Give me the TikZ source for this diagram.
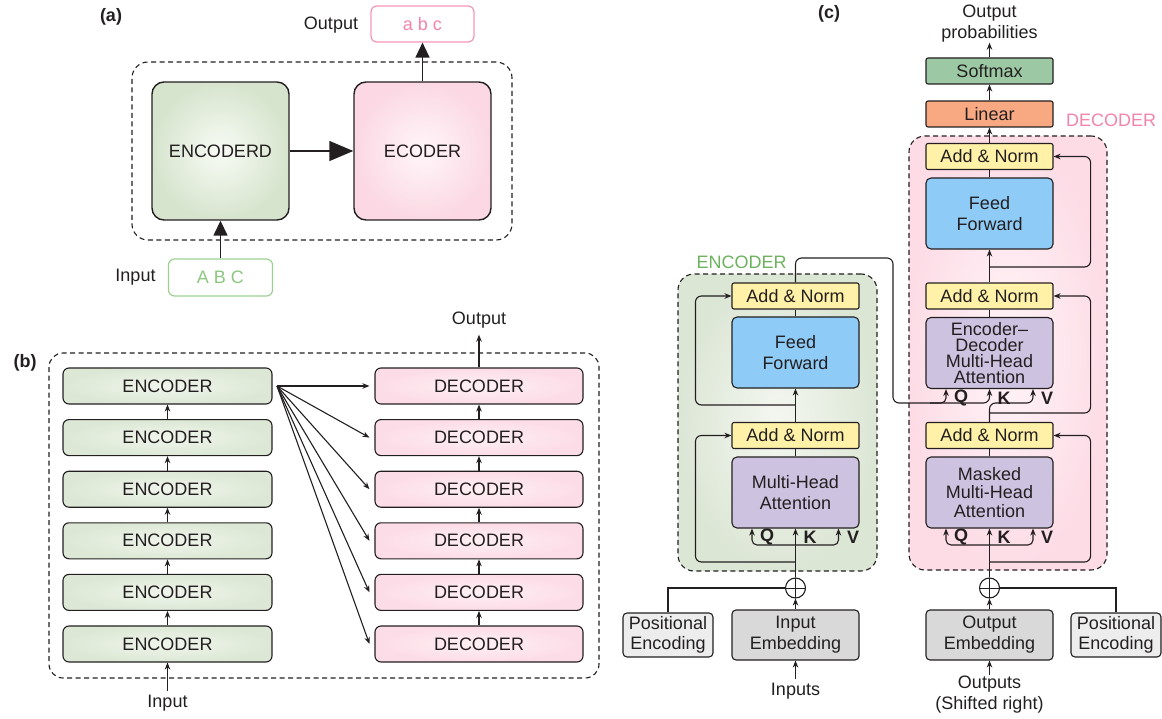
\documentclass[tikz,border=0pt]{standalone}
\usepackage{fontspec}
\setmainfont{Liberation Sans}
\usetikzlibrary{arrows.meta,calc}
\definecolor{ink}{HTML}{231F20}
\definecolor{gout}{HTML}{D6E4CD}
\definecolor{gin}{HTML}{F8FBF5}
\definecolor{pout}{HTML}{FBD8E3}
\definecolor{pin}{HTML}{FFF6F9}
\definecolor{bgout}{HTML}{DCE8D5}
\definecolor{bgin}{HTML}{F0F5EC}
\definecolor{bpout}{HTML}{FCDCE6}
\definecolor{bpin}{HTML}{FFF0F4}
\definecolor{gtext}{HTML}{8CC67F}
\definecolor{ptext}{HTML}{F283AC}
\definecolor{yel}{HTML}{FFF2A8}
\definecolor{blu}{HTML}{8ECBF6}
\definecolor{pur}{HTML}{CDC3E0}
\definecolor{smx}{HTML}{9CC9A3}
\definecolor{lin}{HTML}{F8A982}
\definecolor{emb}{HTML}{D9D9D9}
\definecolor{pos}{HTML}{EDEDED}
\definecolor{egreen}{HTML}{6DB25E}
\definecolor{cgout}{HTML}{DCE6D5}
\definecolor{cgin}{HTML}{F4F7F1}
\definecolor{cpout}{HTML}{FDDCE6}
\definecolor{cpin}{HTML}{FFF5F8}
\newcommand{\fsz}{\fontsize{18}{21}\selectfont}
\begin{document}
\begin{tikzpicture}[x=1pt,y=-1pt,line width=1.1pt,color=ink,
  every node/.style={font=\fsz, text=ink, inner sep=0pt, align=center},
  arr/.style={-{Stealth[length=7pt,width=5.5pt]}},
  dbox/.style={draw=ink, dash pattern=on 5pt off 3.5pt, line width=1.1pt},
  bigbox/.style={draw=ink, line width=1.4pt, rounded corners=12pt, minimum width=137pt, minimum height=138pt},
  benc/.style={draw=ink, rounded corners=6pt, inner color=bgin, outer color=bgout, minimum width=209pt, minimum height=36pt},
  bdec/.style={draw=ink, rounded corners=6pt, inner color=bpin, outer color=bpout, minimum width=208pt, minimum height=36pt},
  addn/.style={draw=ink, fill=yel, rounded corners=2pt, minimum width=127pt, minimum height=26pt},
  ffbox/.style={draw=ink, fill=blu, rounded corners=5pt, minimum width=127pt, minimum height=71pt},
  attbox/.style={draw=ink, fill=pur, rounded corners=5pt, minimum width=127pt, minimum height=71pt},
  smallbox/.style={draw=ink, rounded corners=2pt, minimum width=127pt, minimum height=26pt},
  embbox/.style={draw=ink, fill=emb, rounded corners=4pt, minimum width=127pt, minimum height=50pt},
  posbox/.style={draw=ink, fill=pos, rounded corners=4pt, minimum width=90pt, minimum height=44pt, font=\fontsize{18}{20}\selectfont},
  plus/.style={draw=ink, circle, minimum size=20pt, line width=1.1pt,
    path picture={\draw[line width=1pt] (path picture bounding box.north) -- (path picture bounding box.south) (path picture bounding box.west) -- (path picture bounding box.east);}},
  bigtip/.style={-{Triangle[length=24pt,width=20pt]}, line width=1.4pt},
  medtip/.style={-{Triangle[length=15pt,width=14pt]}, line width=1.4pt},
  lab/.style={font=\bfseries\fsz},
  qkv/.style={font=\bfseries\fsz}
]
\path[use as bounding box] (0,0) rectangle (1162,719);

% ---------------- (a)
\node[lab] (la) at (111,17) {(a)};
\node[dbox, rounded corners=16pt, minimum width=380pt, minimum height=178pt] (acont) at (322,151) {};
\node[bigbox, inner color=gin, outer color=gout] (aenc) at (220.5,151) {ENCODERD};
\node[bigbox, inner color=pin, outer color=pout] (adec) at (422.5,151) {ECODER};
\node[draw=ptext!85, line width=1.2pt, rounded corners=6pt, minimum width=103pt, minimum height=36pt, text=ptext] (aout) at (422.5,24) {a b c};
\node (aoutl) at (331,25) {Output};
\node[draw=gtext!85, line width=1.2pt, rounded corners=6pt, minimum width=104pt, minimum height=37pt, text=gtext] (ain) at (220.5,277.5) {A B C};
\node (ainl) at (135.5,277) {Input};
\draw[bigtip] (aenc.east) -- (adec.west);
\draw[medtip] (adec.north) -- (aout.south);
\draw[medtip] (ain.north) -- (aenc.south);

% ---------------- (b)
\node[lab] (lb) at (25,363) {(b)};
\node[dbox, rounded corners=14pt, minimum width=550pt, minimum height=325pt] (bcont) at (324,515.5) {};
\foreach \i/\y in {1/386,2/437.6,3/489.2,4/540.8,5/592.4,6/644}{
  \node[benc] (e\i) at (167.5,\y) {ENCODER};
  \node[bdec] (d\i) at (479,\y) {DECODER};
}
\foreach \a/\b in {2/1,3/2,4/3,5/4,6/5}{
  \draw[arr] (e\a.north) -- (e\b.south);
  \draw[arr] (d\a.north) -- (d\b.south);
}
\coordinate (fan) at (277,386);
\foreach \i in {1,...,6}{
  \draw[arr] (fan) -- ([xshift=-5pt]d\i.west);
}
\node (bout) at (479,320) {Output};
\draw[arr, shorten >=6pt] (d1.north) -- (bout.south);
\node (bin) at (167.5,703) {Input};
\draw[arr, shorten <=3pt] (bin.north) -- (e6.south);

% ---------------- (c)
\node[lab] (lc) at (829,14) {(c)};
\node[dbox, rounded corners=16pt, inner color=cgin, outer color=cgout, minimum width=199pt, minimum height=297pt] (econt) at (777.5,422.5) {};
\node[dbox, rounded corners=16pt, inner color=cpin, outer color=cpout, minimum width=198pt, minimum height=434pt] (dcont) at (1008,353) {};
\node[text=egreen] (elab) at (741.5,262) {ENCODER};
\node[text=ptext] (dlab) at (1111,120) {DECODER};

% encoder blocks
\node[addn] (ean1) at (795.5,296) {Add \& Norm};
\node[ffbox] (eff) at (795.5,352.5) {Feed\\Forward};
\node[addn] (ean2) at (795.5,435.5) {Add \& Norm};
\node[attbox] (emha) at (795.5,492.5) {Multi-Head\\Attention};
\node[qkv] (eq) at (767,537) {Q};
\node[qkv] (ek) at (810,537) {K};
\node[qkv] (ev) at (853,537) {V};

% decoder blocks
\node[smallbox, fill=smx] (smx) at (989.5,71) {Softmax};
\node[smallbox, fill=lin] (lin) at (989.5,114) {Linear};
\node[addn] (dan1) at (989.5,156.5) {Add \& Norm};
\node[ffbox] (dff) at (989.5,213.5) {Feed\\Forward};
\node[addn] (dan2) at (989.5,296) {Add \& Norm};
\node[attbox, font=\fontsize{18}{16}\selectfont] (dmha2) at (989.5,353) {Encoder–\\Decoder\\Multi-Head\\Attention};
\node[addn] (dan3) at (989.5,435.5) {Add \& Norm};
\node[attbox, font=\fontsize{18}{18.5}\selectfont] (dmha1) at (989.5,492.5) {Masked\\Multi-Head\\Attention};
\node[qkv] (dq2) at (961,398) {Q};
\node[qkv] (dk2) at (1004,398) {K};
\node[qkv] (dv2) at (1047,398) {V};
\node[qkv] (dq1) at (961,537) {Q};
\node[qkv] (dk1) at (1004,537) {K};
\node[qkv] (dv1) at (1047,537) {V};
\node (oprob) at (989.5,23.5) {Output\\probabilities};

% bottom
\node[plus] (ecirc) at (795.5,588) {};
\node[plus] (dcirc) at (989.5,588) {};
\node[embbox] (inemb) at (795.5,635) {Input\\Embedding};
\node[embbox] (outemb) at (989.5,635) {Output\\Embedding};
\node[posbox] (peL) at (668,635) {Positional\\Encoding};
\node[posbox] (peR) at (1116,635) {Positional\\Encoding};
\node (inputs) at (795.5,691) {Inputs};
\node (outs) at (989.5,694.5) {Outputs\\(Shifted right)};

\draw[arr, shorten <=3pt] (inputs.north) -- (inemb.south);
\draw[arr] (outs.north) -- (outemb.south);
\draw[arr] (inemb.north) -- (ecirc.south);
\draw[arr] (outemb.north) -- (dcirc.south);
\draw (peL.north) |- (ecirc.west);
\draw (peR.north) |- (dcirc.east);

% encoder connections
\coordinate (ej1) at (795.5,562);
\coordinate (ej2) at (795.5,545);
\coordinate (ej3) at (795.5,405);
\draw[arr] (ecirc.north) -- (emha.south);
\draw[arr, rounded corners=5pt] (ej2) -| ([xshift=-43.5pt]emha.south);
\draw[arr, rounded corners=5pt] (ej2) -| ([xshift=43pt]emha.south);
\draw[arr, rounded corners=6pt] (ej1) -| ([xshift=-36pt]ean2.west) -- (ean2.west);
\draw (emha.north) -- (ean2.south);
\draw[arr] (ean2.north) -- (eff.south);
\draw[arr, rounded corners=6pt] (ej3) -| ([xshift=-36pt]ean1.west) -- (ean1.west);
\draw (eff.north) -- (ean1.south);

% encoder output to decoder
\coordinate (eo1) at (795.5,258);
\coordinate (eo2) at (893,258);
\coordinate (eo3) at (893,403);
\coordinate (eo4) at (989.5,403);
\coordinate (eqs) at (930,403);
\draw[arr, rounded corners=6pt] (ean1.north) -- (eo1) -- (eo2) -- (eo3) -- (eo4) -- (dmha2.south);
\draw[arr, rounded corners=5pt] (eqs) -| ([xshift=-43.5pt]dmha2.south);

% decoder connections
\coordinate (dj1) at (989.5,562);
\coordinate (dj2) at (989.5,545);
\coordinate (dj3) at (989.5,413);
\coordinate (dj4) at (989.5,267);
\draw[arr] (dcirc.north) -- (dmha1.south);
\draw[arr, rounded corners=5pt] (dj2) -| ([xshift=-43.5pt]dmha1.south);
\draw[arr, rounded corners=5pt] (dj2) -| ([xshift=43.5pt]dmha1.south);
\draw[arr, rounded corners=6pt] (dj1) -| ([xshift=37pt]dan3.east) -- (dan3.east);
\draw (dmha1.north) -- (dan3.south);
\draw[arr, rounded corners=6pt] (dan3.north) -- (eo4) -| ([xshift=43.5pt]dmha2.south);
\draw[arr, rounded corners=6pt] (dj3) -| ([xshift=37pt]dan2.east) -- (dan2.east);
\draw (dmha2.north) -- (dan2.south);
\draw[arr] (dan2.north) -- (dff.south);
\draw[arr, rounded corners=6pt] (dj4) -| ([xshift=37pt]dan1.east) -- (dan1.east);
\draw (dff.north) -- (dan1.south);
\draw[arr] (dan1.north) -- (lin.south);
\draw[arr] (lin.north) -- (smx.south);
\draw[arr] (smx.north) -- (oprob.south);
\end{tikzpicture}
\end{document}
